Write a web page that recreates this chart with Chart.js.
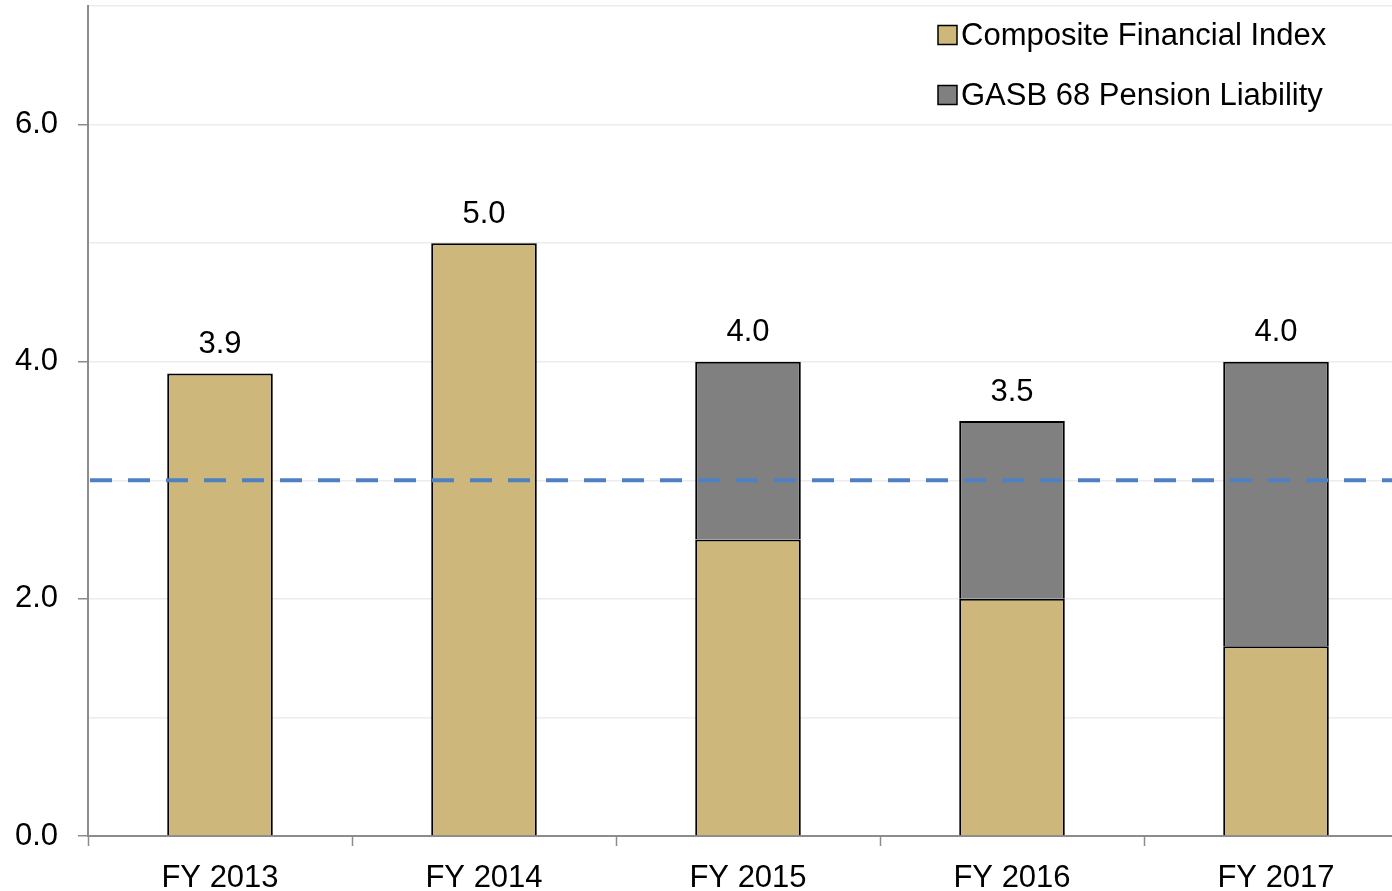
<!DOCTYPE html>
<html>
<head>
<meta charset="utf-8">
<script src="https://cdn.jsdelivr.net/npm/chart.js@4/dist/chart.umd.min.js"></script>
<style>
  html, body { margin: 0; padding: 0; background: #fff; overflow: hidden; }
  #wrap { position: relative; width: 1408px; height: 891px; }
</style>
</head>
<body>
<div id="wrap"><canvas id="chart"></canvas></div>
<script>
// Chart data
const years = ['FY 2013', 'FY 2014', 'FY 2015', 'FY 2016', 'FY 2017'];
const compositeIndex = [3.9, 5.0, 2.5, 2.0, 1.6];
const pensionLiability = [null, null, 1.5, 1.5, 2.4];
const totalLabels = ['3.9', '5.0', '4.0', '3.5', '4.0'];
const threshold = 3.0;
const yTicks = [0, 2, 4, 6];

const FONT = '"Liberation Sans", Arial, Helvetica, sans-serif';
const FSIZE = 31;
const GOLD = '#cdb77b';
const GREY = '#808080';
const AXIS = '#8c8c8c';

// Dashed reference line at the threshold value, drawn over the bars
const thresholdLine = {
    id: 'thresholdLine',
    afterDatasetsDraw(chart) {
        const { ctx, chartArea } = chart;
        const y = chart.scales.y.getPixelForValue(threshold);
        ctx.save();
        ctx.strokeStyle = '#4f81c2';
        ctx.lineWidth = 4;
        ctx.setLineDash([22, 16]);
        ctx.beginPath();
        ctx.moveTo(chartArea.left + 2, y);
        ctx.lineTo(chartArea.right, y);
        ctx.stroke();
        ctx.restore();
    }
};

// Total value printed above each stacked bar
const totalsPlugin = {
    id: 'totals',
    afterDraw(chart) {
        const { ctx } = chart;
        const metaTop = chart.getDatasetMeta(0);
        const metaPen = chart.getDatasetMeta(1);
        ctx.save();
        ctx.font = FSIZE + 'px ' + FONT;
        ctx.fillStyle = '#000';
        ctx.textAlign = 'center';
        ctx.textBaseline = 'middle';
        years.forEach((_, i) => {
            const bar = pensionLiability[i] != null ? metaPen.data[i] : metaTop.data[i];
            ctx.fillText(totalLabels[i], bar.x, bar.y - 29);
        });
        ctx.restore();
    }
};

// Legend drawn inside the plot area, top right
const insideLegend = {
    id: 'insideLegend',
    afterDraw(chart) {
        const { ctx } = chart;
        const items = [
            { text: 'Composite Financial Index', color: GOLD },
            { text: 'GASB 68 Pension Liability', color: GREY }
        ];
        const x = 938, y0 = 35, step = 60, box = 19;
        ctx.save();
        ctx.font = FSIZE + 'px ' + FONT;
        ctx.textBaseline = 'middle';
        ctx.textAlign = 'left';
        items.forEach((it, i) => {
            const y = y0 + i * step;
            ctx.fillStyle = it.color;
            ctx.fillRect(x, y - box / 2, box, box);
            ctx.strokeStyle = '#000';
            ctx.lineWidth = 1.5;
            ctx.strokeRect(x, y - box / 2, box, box);
            ctx.fillStyle = '#000';
            ctx.fillText(it.text, x + box + 4, y + 1);
        });
        ctx.restore();
    }
};

const ctx = document.getElementById('chart').getContext('2d');
new Chart(ctx, {
    type: 'bar',
    data: {
        labels: years,
        datasets: [
            {
                label: 'Composite Financial Index',
                data: compositeIndex,
                backgroundColor: GOLD,
                borderColor: '#000',
                borderWidth: 2,
                borderSkipped: 'start'
            },
            {
                label: 'GASB 68 Pension Liability',
                data: pensionLiability,
                backgroundColor: GREY,
                borderColor: '#000',
                borderWidth: 2,
                borderSkipped: 'start'
            }
        ]
    },
    options: {
        responsive: true,
        maintainAspectRatio: false,
        animation: false,
        layout: { padding: { top: 6, left: 0, right: 0, bottom: 0 } },
        datasets: {
            bar: { barPercentage: 0.4, categoryPercentage: 1.0 }
        },
        plugins: {
            legend: { display: false },
            tooltip: { enabled: false }
        },
        scales: {
            x: {
                stacked: true,
                grid: {
                    offset: true,
                    drawOnChartArea: false,
                    tickLength: 10,
                    tickColor: AXIS,
                    tickWidth: 1.5
                },
                border: { color: AXIS, width: 2 },
                ticks: {
                    color: '#000',
                    font: { family: FONT, size: FSIZE },
                    padding: 14
                },
                afterFit(scale) {
                    scale.height = 55;
                    scale.paddingLeft = 0;
                    scale.paddingRight = 0;
                }
            },
            y: {
                stacked: true,
                min: 0,
                max: 7,
                grid: {
                    color: '#ececec',
                    lineWidth: 1.5,
                    tickLength: 10,
                    tickWidth: 1.5,
                    tickColor: c => yTicks.includes(c.tick.value) ? AXIS : 'rgba(0,0,0,0)'
                },
                border: { color: AXIS, width: 2 },
                ticks: {
                    stepSize: 1,
                    color: '#000',
                    padding: 20,
                    font: { family: FONT, size: FSIZE },
                    callback: v => yTicks.includes(v) ? v.toFixed(1) : ''
                },
                afterFit(scale) {
                    scale.width = 88;
                    scale.paddingTop = 0;
                    scale.paddingBottom = 0;
                }
            }
        }
    },
    plugins: [thresholdLine, totalsPlugin, insideLegend]
});
</script>
</body>
</html>
